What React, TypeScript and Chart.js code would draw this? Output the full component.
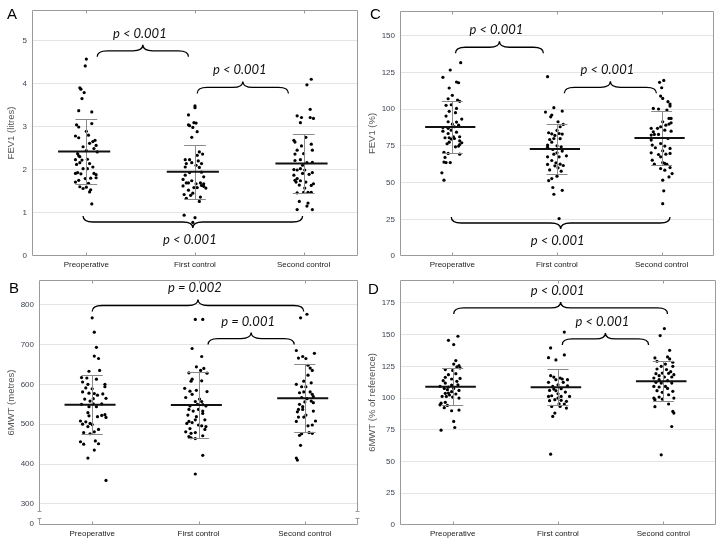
import React, { useEffect, useRef } from "react";
import { Chart, registerables } from "chart.js";
Chart.register(...registerables);

type Pt = [number, number]; // [horizontal jitter (category units), value]

const CATEGORIES = ["Preoperative", "First control", "Second control"];

// ---------- Panel A: FEV1 (litres) ----------
const A_PRE: Pt[] = [
  [0.0, 4.58], [-0.01, 4.42], [-0.06, 3.91], [-0.05, 3.88], [-0.02, 3.8], [-0.04, 3.66], [-0.07, 3.38], [0.05, 3.35],
  [-0.09, 3.05], [-0.07, 3.0], [0.0, 2.9], [0.05, 3.08], [-0.1, 2.79], [-0.07, 2.75], [0.02, 2.81], [0.08, 2.69],
  [0.06, 2.66], [0.03, 2.62], [-0.03, 2.54], [0.09, 2.57], [0.07, 2.5], [0.1, 2.42], [0.0, 2.45], [-0.08, 2.38],
  [-0.07, 2.33], [-0.06, 2.31], [-0.1, 2.24], [-0.04, 2.23], [-0.06, 2.17], [0.01, 2.25], [0.03, 2.15], [-0.09, 2.13],
  [0.06, 2.07], [-0.03, 2.03], [0.01, 2.03], [-0.08, 1.94], [-0.1, 1.92], [-0.05, 1.91], [0.07, 1.92], [0.09, 1.89],
  [0.04, 1.81], [-0.01, 1.8], [-0.07, 1.76], [-0.1, 1.72], [0.09, 1.82], [0.02, 1.69], [-0.06, 1.61], [-0.03, 1.57],
  [0.0, 1.6], [0.04, 1.54], [0.03, 1.49], [0.05, 1.21],
];
const A_FIRST: Pt[] = [
  [0.0, 3.49], [0.0, 3.45], [-0.06, 3.28], [-0.06, 3.05], [-0.02, 2.99], [-0.05, 3.03], [0.01, 3.09], [-0.01, 3.1],
  [-0.03, 2.76], [0.02, 2.89], [0.04, 2.42], [0.07, 2.37], [0.02, 2.34], [-0.09, 2.24], [-0.08, 2.15], [-0.05, 2.24],
  [0.03, 2.21], [0.06, 2.15], [-0.03, 2.17], [0.01, 2.11], [-0.09, 2.07], [0.04, 2.06], [0.06, 1.95], [-0.05, 1.94],
  [-0.09, 1.88], [0.08, 1.84], [-0.11, 1.78], [-0.08, 1.7], [-0.03, 1.75], [-0.06, 1.7], [0.01, 1.68], [0.05, 1.7],
  [0.08, 1.68], [0.06, 1.64], [0.08, 1.62], [0.02, 1.59], [-0.11, 1.63], [0.1, 1.58], [-0.01, 1.59], [-0.06, 1.53],
  [-0.1, 1.43], [-0.04, 1.41], [-0.02, 1.46], [-0.08, 1.34], [0.05, 1.37], [0.04, 1.27], [-0.1, 0.95], [0.0, 0.89],
  [-0.02, 0.78],
];
const A_SECOND: Pt[] = [
  [0.07, 4.11], [0.03, 3.98], [0.06, 3.41], [0.09, 3.2], [-0.06, 3.26], [-0.02, 3.22], [0.06, 3.22], [-0.03, 3.1],
  [-0.09, 2.69], [-0.08, 2.65], [0.02, 2.76], [0.07, 2.6], [-0.02, 2.56], [-0.06, 2.46], [0.08, 2.46], [0.0, 2.38],
  [-0.08, 2.37], [-0.03, 2.24], [-0.08, 2.22], [0.03, 2.17], [0.08, 2.18], [-0.01, 2.11], [-0.03, 2.03], [-0.09, 2.01],
  [-0.06, 2.0], [0.01, 2.0], [0.08, 1.94], [-0.09, 1.88], [-0.06, 1.8], [-0.01, 1.92], [0.05, 1.9], [-0.07, 1.72],
  [-0.08, 1.76], [-0.03, 1.75], [0.02, 1.72], [0.09, 1.68], [-0.04, 1.65], [0.07, 1.64], [0.01, 1.58], [0.04, 1.48],
  [0.0, 1.48], [0.07, 1.48], [-0.06, 1.47], [-0.04, 1.27], [0.04, 1.23], [0.03, 1.16], [-0.06, 1.08], [0.08, 1.08],
];
const A_MEANS = [2.43, 1.96, 2.15];
const A_SDS = [0.745, 0.625, 0.68];
const A_TICKS = [0, 1, 2, 3, 4, 5];
const A_TICK_LABELS = ["0", "1", "2", "3", "4", "5"];

// ---------- Panel C: FEV1 (%) ----------
const C_PRE: Pt[] = [
  [0.08, 131.8], [-0.02, 126.8], [-0.09, 121.8], [0.04, 118.6], [0.06, 118.1], [-0.03, 114.5], [0.0, 109.5], [-0.04, 107.2],
  [0.05, 106.3], [0.07, 105.4], [-0.06, 102.7], [-0.01, 103.1], [0.04, 100.6], [-0.03, 98.6], [0.03, 97.7], [-0.06, 95.4],
  [0.09, 93.3], [-0.04, 91.5], [0.04, 91.3], [0.0, 89.9], [0.06, 89.2], [-0.09, 87.6], [-0.04, 87.0], [0.02, 88.1],
  [-0.01, 85.8], [-0.09, 85.1], [-0.04, 83.5], [0.04, 84.4], [0.01, 81.3], [-0.03, 80.6], [0.07, 81.3], [-0.07, 80.6],
  [-0.01, 79.7], [0.02, 80.1], [0.07, 78.5], [0.09, 77.2], [0.07, 76.0], [0.06, 74.9], [-0.05, 76.5], [-0.03, 77.6],
  [0.03, 74.4], [-0.08, 70.6], [-0.04, 69.9], [0.07, 69.4], [-0.07, 67.2], [-0.06, 63.7], [-0.08, 64.0], [-0.02, 63.7],
  [-0.1, 56.7], [-0.08, 51.7],
];
const C_FIRST: Pt[] = [
  [-0.09, 122.2], [-0.03, 101.1], [0.05, 98.8], [-0.11, 98.1], [-0.05, 96.1], [-0.06, 94.9], [0.01, 91.5], [0.06, 89.7],
  [0.03, 88.1], [0.0, 85.6], [-0.08, 84.0], [-0.05, 83.3], [0.02, 83.5], [0.05, 83.1], [-0.02, 82.2], [-0.03, 80.1],
  [-0.07, 79.4], [0.03, 80.0], [-0.05, 77.6], [-0.09, 75.6], [0.0, 75.1], [-0.09, 74.2], [0.04, 74.4], [-0.04, 72.6],
  [0.05, 71.5], [0.0, 70.3], [0.09, 68.3], [-0.03, 69.4], [0.02, 67.6], [-0.09, 67.6], [-0.05, 65.1], [-0.01, 63.5],
  [0.03, 62.6], [0.06, 61.7], [-0.02, 61.5], [-0.09, 62.4], [0.01, 60.1], [-0.07, 58.7], [0.04, 57.8], [0.0, 54.4],
  [-0.08, 51.4], [-0.05, 52.8], [-0.04, 46.7], [0.05, 44.8], [-0.03, 42.1], [0.02, 25.5],
];
const C_SECOND: Pt[] = [
  [0.02, 119.7], [-0.02, 118.4], [0.0, 114.7], [-0.01, 109.0], [0.01, 107.4], [0.06, 105.2], [0.08, 103.6], [0.08, 102.2],
  [-0.08, 100.6], [-0.03, 100.2], [0.05, 99.5], [0.07, 93.8], [0.09, 93.8], [0.01, 91.5], [0.09, 90.8], [0.07, 89.9],
  [0.04, 89.2], [-0.1, 87.0], [-0.04, 87.0], [-0.01, 88.1], [-0.08, 84.7], [0.03, 85.8], [-0.1, 82.4], [-0.07, 82.9],
  [-0.03, 82.9], [0.09, 85.1], [-0.1, 79.0], [0.06, 80.1], [-0.01, 76.7], [-0.09, 75.6], [0.03, 74.9], [-0.06, 73.8],
  [0.08, 73.3], [0.01, 71.7], [-0.1, 70.3], [-0.03, 69.2], [0.04, 69.4], [-0.01, 67.6], [0.08, 69.9], [-0.09, 65.3],
  [0.01, 63.7], [0.03, 63.1], [0.05, 62.4], [-0.07, 62.6], [0.08, 60.3], [0.03, 58.5], [-0.01, 59.6], [0.1, 56.2],
  [0.07, 53.9], [0.01, 51.7], [0.02, 44.4], [0.01, 35.7],
];
const C_MEANS = [88.0, 73.0, 80.4];
const C_SDS = [17.5, 16.8, 18.4];
const C_TICKS = [0, 25, 50, 75, 100, 125, 150];
const C_TICK_LABELS = ["0", "25", "50", "75", "100", "125", "150"];

// ---------- Panel B: 6MWT (metres) ----------
const B_PRE: Pt[] = [
  [0.0, 767], [0.02, 731], [0.04, 693], [0.02, 671], [0.06, 665], [0.07, 635], [-0.03, 633], [-0.1, 617],
  [-0.05, 616], [-0.09, 606], [0.04, 613], [-0.04, 600], [0.12, 600], [0.12, 594], [-0.06, 591], [0.0, 589],
  [-0.09, 581], [-0.03, 578], [0.02, 577], [0.1, 576], [0.13, 565], [0.01, 564], [-0.07, 563], [0.05, 573],
  [-0.02, 558], [0.01, 551], [0.09, 551], [-0.1, 550], [0.04, 544], [-0.03, 544], [-0.04, 529], [0.12, 524],
  [0.13, 517], [0.05, 519], [-0.03, 521], [0.09, 522], [-0.06, 506], [-0.02, 502], [-0.11, 508], [-0.09, 500],
  [0.0, 499], [-0.04, 494], [0.06, 487], [0.02, 481], [-0.08, 479], [-0.02, 476], [-0.11, 456], [-0.08, 450],
  [0.03, 458], [0.06, 451], [0.02, 435], [-0.04, 415], [0.13, 359],
];
const B_FIRST: Pt[] = [
  [-0.03, 763], [0.04, 763], [-0.06, 690], [0.03, 670], [-0.02, 644], [0.05, 640], [0.02, 635], [0.08, 628],
  [-0.09, 629], [-0.06, 613], [-0.07, 608], [0.03, 609], [-0.13, 590], [0.08, 582], [-0.08, 583], [-0.02, 585],
  [-0.12, 567], [-0.06, 575], [0.01, 563], [-0.03, 557], [0.03, 557], [-0.01, 550], [-0.08, 546], [0.04, 549],
  [0.07, 546], [-0.09, 537], [0.0, 537], [-0.05, 533], [0.04, 533], [-0.1, 523], [-0.02, 519], [0.04, 527],
  [-0.03, 511], [0.06, 511], [-0.11, 502], [-0.09, 507], [-0.06, 504], [0.0, 498], [0.03, 496], [0.07, 494],
  [-0.08, 489], [-0.12, 481], [-0.03, 479], [0.06, 487], [-0.07, 477], [-0.09, 469], [-0.07, 466], [-0.03, 464],
  [0.04, 471], [0.04, 422], [-0.03, 375],
];
const B_SECOND: Pt[] = [
  [-0.04, 767], [0.02, 776], [-0.08, 685], [-0.06, 666], [-0.02, 670], [0.01, 665], [0.09, 678], [0.03, 648],
  [0.05, 641], [0.07, 635], [0.03, 623], [-0.01, 608], [0.06, 604], [-0.08, 600], [-0.03, 594], [0.01, 594],
  [-0.05, 579], [-0.01, 581], [0.05, 581], [0.07, 575], [0.08, 569], [0.02, 564], [-0.03, 567], [0.06, 558],
  [0.0, 556], [-0.05, 550], [0.08, 554], [-0.02, 544], [-0.06, 537], [-0.07, 531], [-0.02, 537], [0.01, 523],
  [0.08, 533], [-0.06, 518], [-0.01, 518], [-0.08, 507], [0.1, 508], [0.03, 496], [0.07, 498], [0.04, 479],
  [0.07, 477], [-0.03, 476], [-0.05, 472], [-0.04, 447], [-0.08, 415], [-0.07, 410],
];
const B_MEANS = [549, 548, 565];
const B_SDS = [74, 83.5, 85.5];
const B_TICKS = [250, 300, 400, 500, 600, 700, 800];
const B_TICK_LABELS = ["0", "300", "400", "500", "600", "700", "800"];

// ---------- Panel D: 6MWT (% of reference) ----------
const D_PRE: Pt[] = [
  [0.05, 148.7], [-0.04, 145.5], [0.01, 142.1], [0.03, 129.5], [0.06, 125.5], [0.04, 124.5], [0.01, 126.8], [0.07, 123.7],
  [-0.07, 122.4], [0.0, 121.8], [-0.04, 118.4], [0.03, 119.2], [-0.07, 116.3], [0.07, 115.5], [-0.01, 115.0], [0.04, 113.2],
  [-0.09, 113.7], [-0.07, 111.8], [-0.01, 110.3], [0.05, 110.5], [-0.12, 109.2], [-0.04, 108.7], [-0.08, 107.6], [0.01, 107.6],
  [0.06, 106.0], [-0.05, 106.6], [-0.01, 105.0], [-0.07, 103.7], [-0.04, 103.9], [-0.03, 102.4], [-0.06, 101.3], [0.03, 103.2],
  [-0.1, 101.3], [0.0, 100.8], [0.06, 100.0], [-0.11, 96.0], [-0.07, 96.6], [-0.12, 94.7], [-0.05, 94.2], [-0.08, 92.4],
  [0.06, 90.5], [-0.01, 90.0], [0.01, 81.6], [-0.11, 74.7], [0.02, 76.8],
];
const D_FIRST: Pt[] = [
  [0.06, 152.0], [-0.07, 139.5], [-0.09, 131.8], [0.06, 134.0], [-0.02, 130.0], [-0.07, 117.6], [0.02, 115.8], [-0.04, 116.5],
  [0.04, 115.0], [-0.02, 114.5], [0.09, 114.5], [0.05, 112.4], [-0.09, 112.4], [0.0, 110.5], [-0.05, 109.2], [0.09, 109.7],
  [-0.04, 107.1], [0.03, 107.4], [-0.02, 105.8], [0.07, 104.7], [-0.08, 106.0], [0.0, 103.4], [-0.06, 101.8], [-0.09, 101.3],
  [0.03, 101.3], [0.11, 101.3], [0.0, 100.0], [-0.03, 98.7], [0.03, 98.2], [-0.08, 97.9], [0.08, 97.4], [0.06, 95.3],
  [0.01, 95.5], [-0.06, 93.4], [0.02, 93.4], [0.08, 92.1], [-0.03, 88.2], [-0.05, 85.5], [-0.07, 55.8],
];
const D_SECOND: Pt[] = [
  [0.01, 154.7], [-0.03, 149.2], [0.06, 137.6], [-0.08, 131.6], [0.04, 132.4], [-0.06, 129.0], [0.06, 130.8], [0.09, 128.2],
  [0.02, 126.8], [-0.02, 125.0], [0.09, 125.0], [-0.06, 122.9], [0.03, 122.4], [0.07, 120.8], [-0.07, 119.2], [-0.01, 119.7],
  [0.05, 119.5], [0.1, 118.4], [-0.04, 117.6], [0.01, 116.6], [0.08, 116.6], [-0.09, 115.8], [-0.04, 114.5], [0.04, 113.7],
  [-0.07, 112.4], [-0.02, 111.8], [0.08, 111.8], [-0.09, 109.2], [0.02, 109.2], [-0.04, 108.7], [0.04, 107.6], [-0.06, 105.8],
  [0.09, 105.3], [-0.01, 104.5], [-0.09, 100.0], [0.05, 102.6], [-0.04, 100.8], [0.1, 100.0], [-0.08, 98.7], [-0.01, 99.2],
  [-0.08, 93.2], [0.05, 95.3], [0.09, 89.5], [0.1, 88.2], [0.08, 77.6], [-0.02, 55.3],
];
const D_MEANS = [109, 108.5, 113.3];
const D_SDS = [14.5, 14.2, 15.6];
const D_TICKS = [0, 25, 50, 75, 100, 125, 150, 175];
const D_TICK_LABELS = ["0", "25", "50", "75", "100", "125", "150", "175"];

// ---------- Significance braces (category units / data values) ----------
type Brace = { from: number; to: number; y: number; peak: "up" | "down"; label: string };
const A_BRACES: Brace[] = [
  { from: 1.1, to: 1.94, y: 4.77, peak: "up", label: "p < 0.001" },
  { from: 2.02, to: 2.86, y: 3.92, peak: "up", label: "p < 0.001" },
  { from: 0.97, to: 2.99, y: 0.79, peak: "down", label: "p < 0.001" },
];
const C_BRACES: Brace[] = [
  { from: 1.03, to: 1.87, y: 142.3, peak: "up", label: "p < 0.001" },
  { from: 2.07, to: 2.95, y: 115, peak: "up", label: "p < 0.001" },
  { from: 0.99, to: 3.08, y: 22.5, peak: "down", label: "p < 0.001" },
];
const B_BRACES: Brace[] = [
  { from: 1.0, to: 2.99, y: 798, peak: "up", label: "p = 0.002" },
  { from: 2.09, to: 2.9, y: 715, peak: "up", label: "p = 0.001" },
];
const D_BRACES: Brace[] = [
  { from: 1.01, to: 3.04, y: 171, peak: "up", label: "p < 0.001" },
  { from: 2.04, to: 2.86, y: 146.6, peak: "up", label: "p < 0.001" },
];

type Panel = {
  letter: string;
  yTitle: string;
  groups: Pt[][];
  means: number[];
  sds: number[];
  yMin: number;
  yMax: number;
  ticks: number[];
  tickLabels: string[];
  braces: Brace[];
  broken?: boolean;
  // layout (pixels)
  box: { left: number; top: number; width: number; height: number };
  plot: { left: number; top: number; right: number; bottom: number };
  letterPos: { left: number; top: number };
};

const PANELS: Panel[] = [
  {
    letter: "A", yTitle: "FEV1 (litres)", groups: [A_PRE, A_FIRST, A_SECOND], means: A_MEANS, sds: A_SDS,
    yMin: 0, yMax: 5.72, ticks: A_TICKS, tickLabels: A_TICK_LABELS, braces: A_BRACES,
    box: { left: 0, top: 0, width: 361, height: 270 },
    plot: { left: 32, top: 10, right: 358, bottom: 256 },
    letterPos: { left: 7, top: 5 },
  },
  {
    letter: "C", yTitle: "FEV1 (%)", groups: [C_PRE, C_FIRST, C_SECOND], means: C_MEANS, sds: C_SDS,
    yMin: 0, yMax: 167, ticks: C_TICKS, tickLabels: C_TICK_LABELS, braces: C_BRACES,
    box: { left: 361, top: 0, width: 361, height: 270 },
    plot: { left: 400, top: 11, right: 714, bottom: 256 },
    letterPos: { left: 370, top: 5 },
  },
  {
    letter: "B", yTitle: "6MWT (metres)", groups: [B_PRE, B_FIRST, B_SECOND], means: B_MEANS, sds: B_SDS,
    yMin: 247, yMax: 862, ticks: B_TICKS, tickLabels: B_TICK_LABELS, braces: B_BRACES, broken: true,
    box: { left: 0, top: 270, width: 361, height: 271 },
    plot: { left: 39, top: 280, right: 358, bottom: 525 },
    letterPos: { left: 9, top: 279 },
  },
  {
    letter: "D", yTitle: "6MWT (% of reference)", groups: [D_PRE, D_FIRST, D_SECOND], means: D_MEANS, sds: D_SDS,
    yMin: 0, yMax: 193, ticks: D_TICKS, tickLabels: D_TICK_LABELS, braces: D_BRACES,
    box: { left: 361, top: 270, width: 361, height: 271 },
    plot: { left: 400, top: 280, right: 716, bottom: 525 },
    letterPos: { left: 368, top: 280 },
  },
];

function makeOverlay(p: Panel) {
  return {
    id: "overlay" + p.letter,
    beforeDatasetsDraw(chart: any) {
      const { ctx, chartArea: a } = chart;
      ctx.save();
      ctx.strokeStyle = "#9b9b9b";
      ctx.lineWidth = 1;
      const L = Math.round(a.left) + 0.5, R = Math.round(a.right) - 0.5;
      const T = Math.round(a.top) + 0.5, B = Math.round(a.bottom) - 0.5;
      ctx.beginPath();
      if (!p.broken) {
        ctx.rect(L, T, R - L, B - T);
      } else {
        ctx.moveTo(L, T); ctx.lineTo(R, T);
        ctx.moveTo(L, B); ctx.lineTo(R, B);
        for (const X of [L, R]) {
          ctx.moveTo(X, T); ctx.lineTo(X, B - 13);
          ctx.moveTo(X - 2, B - 13); ctx.lineTo(X + 2, B - 13);
          ctx.moveTo(X - 2, B - 6); ctx.lineTo(X + 2, B - 6);
          ctx.moveTo(X, B - 6); ctx.lineTo(X, B);
        }
      }
      ctx.stroke();
      // small category tick marks on top/bottom borders
      const xs = chart.scales.x;
      ctx.beginPath();
      [1, 2, 3].forEach((c) => {
        const px = Math.round(xs.getPixelForValue(c)) + 0.5;
        ctx.moveTo(px, T); ctx.lineTo(px, T + 3);
        ctx.moveTo(px, B); ctx.lineTo(px, B - 3);
      });
      ctx.stroke();
      ctx.restore();
    },
    afterDatasetsDraw(chart: any) {
      const { ctx } = chart;
      const xs = chart.scales.x, ys = chart.scales.y;
      ctx.save();
      // SD bars and means
      p.means.forEach((m, i) => {
        const c = i + 1;
        const cx = Math.round(xs.getPixelForValue(c)) + 0.5;
        const yt = Math.round(ys.getPixelForValue(m + p.sds[i])) + 0.5;
        const yb = Math.round(ys.getPixelForValue(m - p.sds[i])) + 0.5;
        ctx.strokeStyle = "#8a8a8a";
        ctx.lineWidth = 1;
        ctx.beginPath();
        ctx.moveTo(cx, yt); ctx.lineTo(cx, yb);
        ctx.moveTo(xs.getPixelForValue(c - 0.1), yt); ctx.lineTo(xs.getPixelForValue(c + 0.1), yt);
        ctx.moveTo(xs.getPixelForValue(c - 0.1), yb); ctx.lineTo(xs.getPixelForValue(c + 0.1), yb);
        ctx.stroke();
        const ym = ys.getPixelForValue(m);
        ctx.strokeStyle = "#111";
        ctx.lineWidth = 2;
        ctx.beginPath();
        ctx.moveTo(xs.getPixelForValue(c - 0.26), ym);
        ctx.lineTo(xs.getPixelForValue(c + 0.22), ym);
        ctx.stroke();
      });
      // braces
      ctx.strokeStyle = "#000";
      ctx.lineWidth = 1.3;
      ctx.fillStyle = "#111";
      ctx.font = "italic 13px Lato, 'Open Sans', sans-serif";
      ctx.textAlign = "center";
      p.braces.forEach((b) => {
        const xL = xs.getPixelForValue(b.from);
        const xR = xs.getPixelForValue(b.to);
        const xm = (xL + xR) / 2;
        const y = ys.getPixelForValue(b.y);
        const s = b.peak === "up" ? -1 : 1;
        const h = 6, r = 10;
        ctx.beginPath();
        ctx.moveTo(xL, y - s * h);
        ctx.quadraticCurveTo(xL, y, xL + r, y);
        ctx.lineTo(xm - r, y);
        ctx.quadraticCurveTo(xm, y, xm, y + s * h);
        ctx.quadraticCurveTo(xm, y, xm + r, y);
        ctx.lineTo(xR - r, y);
        ctx.quadraticCurveTo(xR, y, xR, y - s * h);
        ctx.stroke();
        if (b.peak === "up") {
          ctx.textBaseline = "alphabetic";
          ctx.fillText(b.label, xm - 3, y + s * h - 7);
        } else {
          ctx.textBaseline = "top";
          ctx.fillText(b.label, xm - 3, y + s * h + 5);
        }
      });
      ctx.restore();
    },
  };
}

function PanelChart({ p }: { p: Panel }) {
  const ref = useRef<HTMLCanvasElement | null>(null);
  useEffect(() => {
    if (!ref.current) return;
    const yAxisWidth = p.plot.left - p.box.left;
    const xAxisHeight = p.box.top + p.box.height - p.plot.bottom;
    const padRight = p.box.left + p.box.width - p.plot.right;
    const padTop = p.plot.top - p.box.top;
    const lowest = Math.min(...p.ticks);
    const chart = new Chart(ref.current, {
      type: "scatter",
      data: {
        datasets: p.groups.map((g, i) => ({
          label: CATEGORIES[i],
          data: g.map(([j, v]) => ({ x: i + 1 + j, y: v })),
          pointRadius: 1.6,
          pointHoverRadius: 1.6,
          pointStyle: "circle",
          backgroundColor: "#000",
          borderColor: "#000",
          borderWidth: 0,
        })),
      },
      options: {
        animation: false,
        responsive: false,
        maintainAspectRatio: false,
        events: [],
        layout: { padding: { left: 0, top: padTop, right: padRight, bottom: 0 } },
        plugins: { legend: { display: false }, tooltip: { enabled: false }, title: { display: false } },
        scales: {
          x: {
            type: "linear",
            min: 0.5,
            max: 3.5,
            afterBuildTicks: (s: any) => { s.ticks = [1, 2, 3].map((v) => ({ value: v })); },
            afterFit: (s: any) => { s.height = xAxisHeight; },
            grid: { display: false, drawTicks: false },
            border: { display: false },
            ticks: {
              autoSkip: false,
              maxRotation: 0,
              padding: 4,
              color: "#222",
              font: { family: "'Liberation Sans', Arial, sans-serif", size: 8 },
              callback: (v: any) => CATEGORIES[Math.round(Number(v)) - 1],
            },
          },
          y: {
            type: "linear",
            min: p.yMin,
            max: p.yMax,
            afterBuildTicks: (s: any) => { s.ticks = p.ticks.map((v) => ({ value: v })); },
            afterFit: (s: any) => { s.width = yAxisWidth; },
            grid: {
              drawTicks: false,
              color: (c: any) => (c.tick && c.tick.value === lowest ? "rgba(0,0,0,0)" : "#e4e4e4"),
              lineWidth: 1,
            },
            border: { display: false },
            ticks: {
              padding: 5,
              color: "#3c4352",
              font: { family: "'Liberation Sans', Arial, sans-serif", size: 8 },
              callback: (_v: any, i: number) => p.tickLabels[i],
            },
            title: {
              display: true,
              text: p.yTitle,
              color: "#555",
              padding: { top: 6, bottom: 0 },
              font: { family: "'Liberation Sans', Arial, sans-serif", size: 9.5 },
            },
          },
        },
      },
      plugins: [makeOverlay(p)],
    } as any);
    return () => chart.destroy();
  }, [p]);
  return (
    <canvas
      ref={ref}
      width={p.box.width}
      height={p.box.height}
      style={{ position: "absolute", left: p.box.left, top: p.box.top, width: p.box.width, height: p.box.height }}
    />
  );
}

export default function App() {
  return (
    <div style={{ position: "fixed", left: 0, top: 0, width: 722, height: 541, background: "#fff", overflow: "hidden" }}>
      {PANELS.map((p) => (
        <PanelChart key={p.letter} p={p} />
      ))}
      {PANELS.map((p) => (
        <div
          key={"l" + p.letter}
          style={{
            position: "absolute",
            left: p.letterPos.left,
            top: p.letterPos.top,
            fontFamily: "'Liberation Sans', Arial, sans-serif",
            fontSize: 15,
            lineHeight: "17px",
            color: "#000",
          }}
        >
          {p.letter}
        </div>
      ))}
    </div>
  );
}
